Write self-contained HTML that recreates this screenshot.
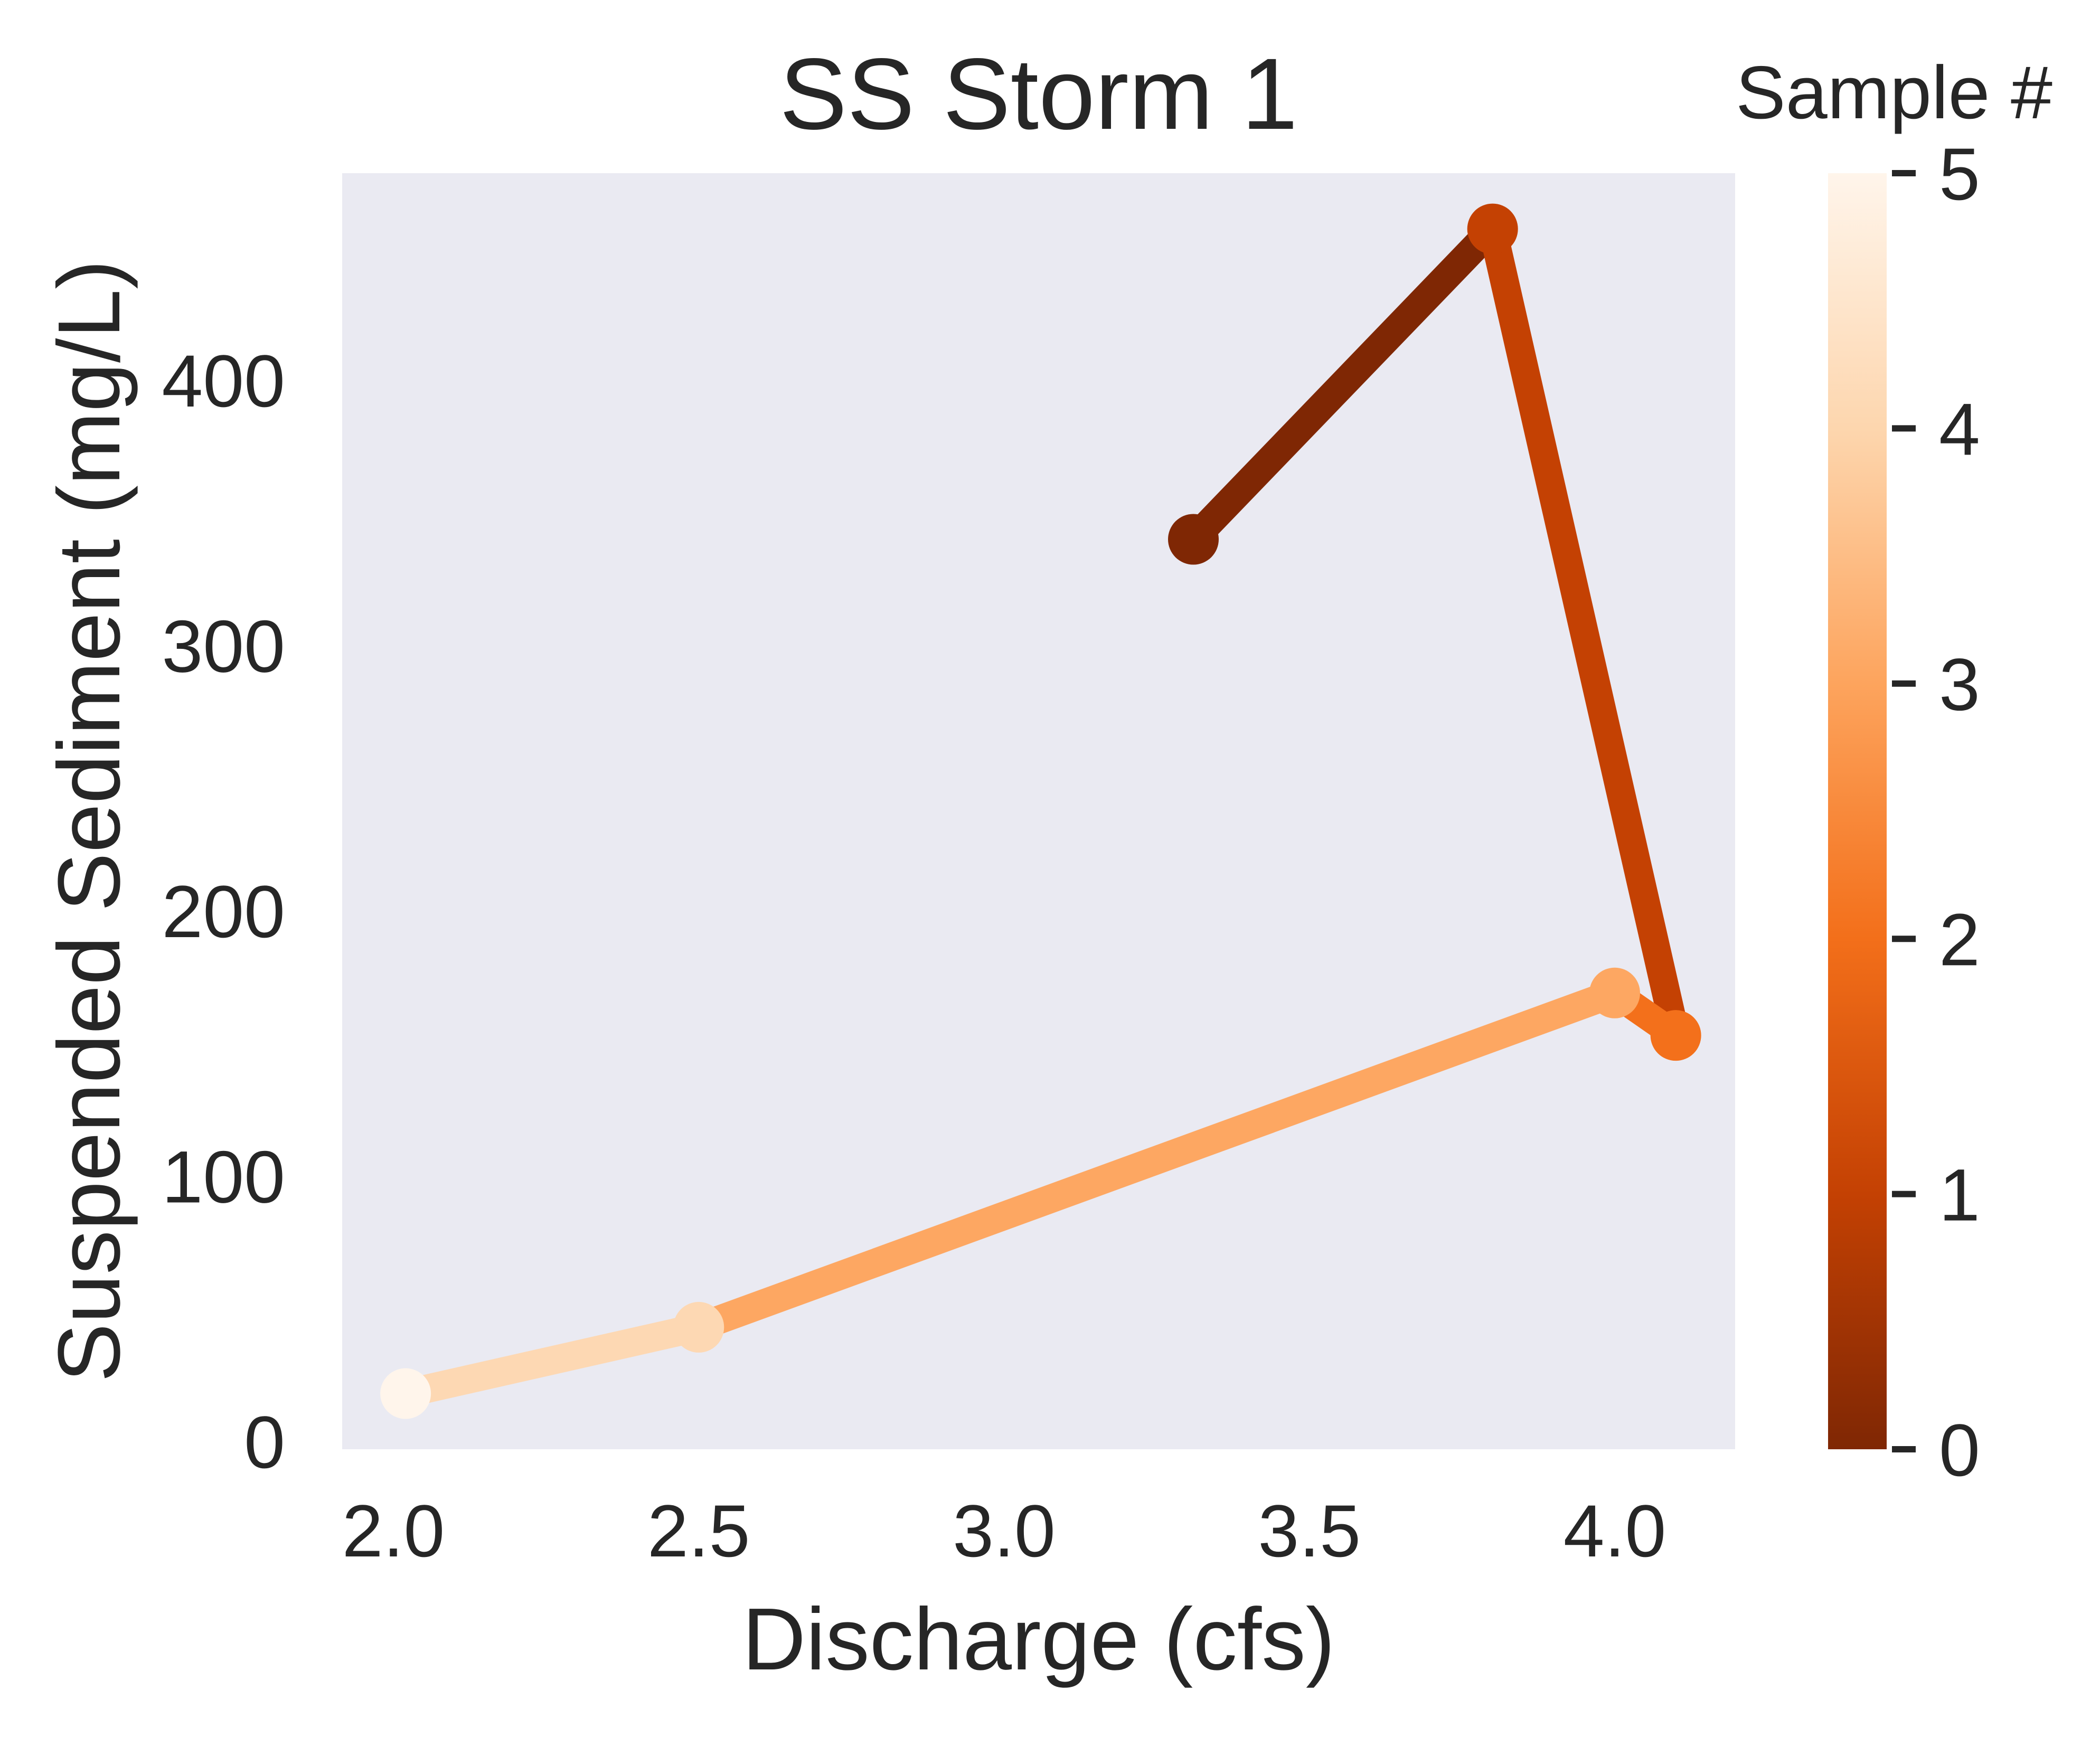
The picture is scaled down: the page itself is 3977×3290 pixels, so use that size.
<!DOCTYPE html>
<html><head><meta charset="utf-8"><style>
html,body{margin:0;padding:0;background:#fff;}
svg{display:block;font-family:"Liberation Sans",Arial,sans-serif;}
</style></head><body>
<svg id="chart" width="3977" height="3290" viewBox="0 0 3977 3290" xmlns="http://www.w3.org/2000/svg">
<rect x="0" y="0" width="3977" height="3290" fill="#ffffff"/>
<rect x="648" y="328" width="2638" height="2417" fill="#eaeaf2"/>
<text x="1967" y="244" font-size="192" fill="#262626" text-anchor="middle">SS Storm 1</text>
<text x="1967" y="3162" font-size="167" fill="#262626" text-anchor="middle">Discharge (cfs)</text>
<text transform="translate(226,1555) rotate(-90)" font-size="167" fill="#262626" text-anchor="middle">Suspended Sediment (mg/L)</text>
<text x="3587" y="224" font-size="142" fill="#262626" text-anchor="middle">Sample #</text>
<defs><linearGradient id="cbg" x1="0" y1="1" x2="0" y2="0">
<stop offset="0" stop-color="#7f2704"/><stop offset="0.2" stop-color="#c44103"/><stop offset="0.4" stop-color="#f36f1a"/><stop offset="0.6" stop-color="#fda45d"/><stop offset="0.8" stop-color="#fdd6ae"/><stop offset="1" stop-color="#fff5eb"/>
</linearGradient></defs>
<rect x="3462" y="328" width="111" height="2417" fill="url(#cbg)"/>
<g id="xticks"></g><g id="yticks"></g><g id="cticks"></g><g id="series"></g>
</svg>
<script>
const discharge = [3.31, 3.80, 4.10, 4.00, 2.50, 2.02];
const sediment = [340, 457, 153, 169, 43, 18];
const sampleIdx = [0, 1, 2, 3, 4, 5];
const xTicks = [2.0, 2.5, 3.0, 3.5, 4.0];
const yTicks = [0, 100, 200, 300, 400];
const cTicks = [0, 1, 2, 3, 4, 5];
const NS = "http://www.w3.org/2000/svg";
const colors = ["#7f2704","#c44103","#f3701b","#fda762","#fdd8b3","#fff5eb"];
function xs(v){return 745 + (v-2.0)*1156.5;}
function ys(v){return 2730 - v*5.025;}
function cs(v){return 2745 - v*(2417/5);}
function mk(tag, attrs, parent){const e=document.createElementNS(NS,tag);for(const k in attrs)e.setAttribute(k,attrs[k]);parent.appendChild(e);return e;}
const gx=document.getElementById('xticks'), gy=document.getElementById('yticks'), gc=document.getElementById('cticks'), gs=document.getElementById('series');
xTicks.forEach(t=>{const e=mk('text',{x:xs(t),y:2948,'font-size':140,fill:'#262626','text-anchor':'middle'},gx);e.textContent=t.toFixed(1);

});
yTicks.forEach(t=>{const e=mk('text',{x:540,y:ys(t)+50,'font-size':140,fill:'#262626','text-anchor':'end'},gy);e.textContent=t;

});
cTicks.forEach(t=>{const l=mk('line',{x1:3583,x2:3628,y1:cs(t),y2:cs(t),stroke:'#262626','stroke-width':12},gc);


const e=mk('text',{x:3672,y:cs(t)+50,'font-size':140,fill:'#262626'},gc);e.textContent=t;

});
for(let i=0;i<discharge.length-1;i++){
 const l=mk('line',{x1:xs(discharge[i]),y1:ys(sediment[i]),x2:xs(discharge[i+1]),y2:ys(sediment[i+1]),stroke:colors[sampleIdx[i]],'stroke-width':54},gs);
 
 
}
for(let i=0;i<discharge.length;i++){
 const c=mk('circle',{cx:xs(discharge[i]),cy:ys(sediment[i]),r:48,fill:colors[sampleIdx[i]]},gs);
 
 
}
</script>
</body></html>
